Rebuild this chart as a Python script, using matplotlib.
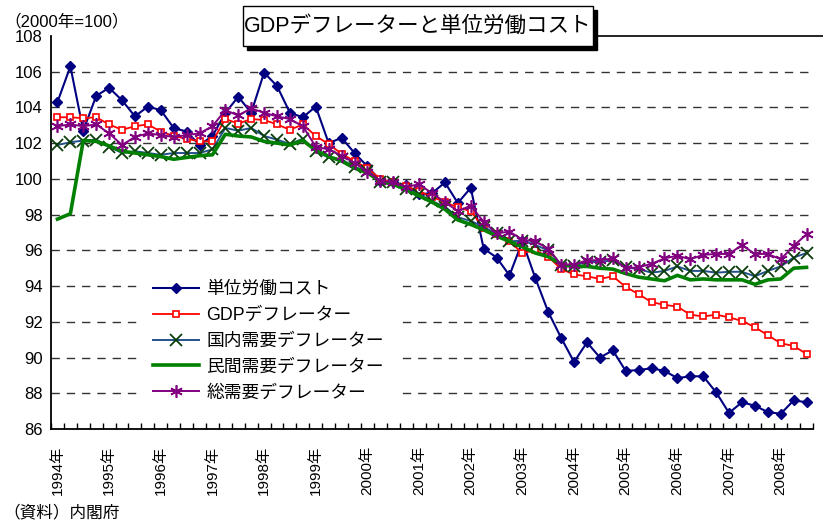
"""GDP deflator vs. unit labour cost, quarterly 1994Q1-2008Q3 (2000 = 100)."""

import matplotlib

matplotlib.use("Agg")
import matplotlib.pyplot as plt
from matplotlib.lines import Line2D
from matplotlib.patches import Rectangle

plt.rcParams["font.family"] = ["Liberation Sans", "Noto Sans CJK JP", "DejaVu Sans"]

W, H = 823, 522

years = [f"{y}年" for y in range(1994, 2009)]

unit_labor = [104.3, 106.3, 102.7, 104.65, 105.1, 104.4, 103.5, 104.05, 103.85, 102.85,
              102.65, 101.9, 102.4, 103.7, 104.6, 103.7, 105.95, 105.2, 103.7, 103.45,
              104.05, 102.0, 102.3, 101.45, 100.7, 99.9, 99.8, 99.65, 99.15, 99.2,
              99.8, 98.65, 99.5, 96.1, 95.6, 94.6, 96.5, 94.45, 92.55, 91.1,
              89.75, 90.85, 90.0, 90.4, 89.25, 89.3, 89.4, 89.25, 88.85, 88.95,
              88.95, 88.05, 86.9, 87.5, 87.3, 86.95, 86.85, 87.6, 87.5]
gdp_deflator = [103.45, 103.45, 103.4, 103.45, 103.05, 102.75, 102.95, 103.05, 102.65, 102.4,
                102.25, 102.1, 102.1, 103.35, 103.1, 103.35, 103.3, 103.05, 102.75, 103.05,
                102.4, 101.95, 101.4, 101.0, 100.6, 100.0, 99.8, 99.6, 99.3, 99.0,
                98.7, 98.4, 98.2, 97.25, 96.9, 96.5, 95.85, 96.0, 95.65, 94.95,
                94.65, 94.55, 94.4, 94.55, 93.95, 93.55, 93.1, 92.95, 92.85, 92.4,
                92.3, 92.4, 92.25, 92.05, 91.7, 91.25, 90.8, 90.65, 90.2]
domestic = [101.9, 102.05, 102.15, 102.2, 101.8, 101.45, 101.55, 101.45, 101.35, 101.45,
            101.45, 101.45, 101.65, 102.85, 102.7, 102.85, 102.4, 102.2, 101.95, 102.25,
            101.55, 101.2, 101.1, 100.65, 100.45, 99.85, 99.8, 99.45, 99.15, 98.75,
            98.45, 97.85, 97.65, 97.3, 96.95, 96.5, 96.55, 96.3, 96.0, 95.2,
            95.15, 95.35, 95.35, 95.45, 95.05, 94.95, 94.75, 94.85, 95.1, 94.85,
            94.85, 94.75, 94.8, 94.8, 94.55, 94.85, 95.1, 95.6, 95.85]
private = [97.75, 98.05, 102.15, 102.1, 101.85, 101.55, 101.45, 101.35, 101.25, 101.1,
           101.2, 101.3, 101.35, 102.5, 102.4, 102.35, 102.1, 102.0, 101.9, 102.15,
           101.6, 101.25, 101.0, 100.6, 100.35, 99.85, 99.7, 99.4, 99.05, 98.7,
           98.3, 97.7, 97.45, 97.15, 96.8, 96.5, 96.2, 95.85, 95.65, 95.2,
           95.1, 95.1, 95.0, 94.95, 94.7, 94.5, 94.4, 94.3, 94.6, 94.35,
           94.4, 94.35, 94.35, 94.35, 94.1, 94.35, 94.4, 95.0, 95.05]
total = [102.95, 103.05, 102.95, 103.05, 102.55, 101.9, 102.35, 102.55, 102.45, 102.35,
         102.45, 102.55, 102.95, 103.85, 103.55, 103.95, 103.7, 103.5, 103.35, 102.95,
         101.8, 101.65, 101.3, 100.9, 100.4, 99.9, 99.8, 99.55, 99.7, 99.2,
         98.7, 98.2, 98.5, 97.6, 96.95, 97.05, 96.6, 96.5, 96.1, 95.2,
         95.2, 95.45, 95.45, 95.55, 95.0, 95.05, 95.25, 95.55, 95.7, 95.5,
         95.75, 95.8, 95.8, 96.3, 95.8, 95.8, 95.5, 96.25, 96.9]

labels = ["単位労働コスト", "GDPデフレーター", "国内需要デフレーター",
          "民間需要デフレーター", "総需要デフレーター"]


def fx(px):
    return px / W


def fy(py):
    return 1 - py / H


fig = plt.figure(figsize=(W / 100, H / 100), dpi=100, facecolor="white")
ax = fig.add_axes([fx(51), fy(429), fx(813 - 51), (429 - 36) / H])

x = list(range(len(unit_labor)))

ax.plot(x, unit_labor, color="#000080", lw=1.5, marker="D", ms=5.2,
        mfc="#000080", mec="#000080", label=labels[0], zorder=3)
ax.plot(x, gdp_deflator, color="#FF0000", lw=1.3, marker="s", ms=4.6,
        mfc="white", mec="#FF0000", mew=1.2, label=labels[1], zorder=4)
ax.plot(x, domestic, color="#24508A", lw=1.4, marker="x", ms=8.5,
        mec="#0B3D0B", mew=1.3, label=labels[2], zorder=5)
ax.plot(x, private, color="#008000", lw=2.6, label=labels[3], zorder=6)
ax.plot(x, total, color="#800080", lw=1.4, marker=(6, 2, 0), ms=9,
        mec="#800080", mew=1.2, label=labels[4], zorder=7)

ax.set_xlim(-0.5, len(x) - 0.5)
ax.set_ylim(86, 108)

# dashed gridlines every 2 points
for v in range(88, 108, 2):
    ax.axhline(v, color="#333333", lw=1.0, dashes=(6, 5), zorder=1)

ax.set_yticks(range(86, 109, 2))
ax.tick_params(axis="y", length=0, pad=6, labelsize=12)

ax.set_xticks(range(0, len(x), 4))
ax.set_xticklabels(years, rotation=90, fontsize=11)
ax.set_xticks([i - 0.5 for i in range(len(x) + 1)], minor=True)
ax.tick_params(axis="x", which="major", length=0, pad=12)
ax.tick_params(axis="x", which="minor", direction="in", length=4, width=1)

for side in ("top", "right"):
    ax.spines[side].set_visible(False)
for side in ("left", "bottom"):
    ax.spines[side].set_linewidth(1.3)

leg = ax.legend(loc="upper left", bbox_to_anchor=(fx(137), fy(265)),
                bbox_transform=fig.transFigure, fontsize=12.8, frameon=True,
                facecolor="white", edgecolor="none", framealpha=1,
                fancybox=False, borderpad=0.9, borderaxespad=0,
                handlelength=2.6, handletextpad=0.4, labelspacing=0.5)
leg.set_zorder(10)

# top border of the plot area to the right of the title box
fig.add_artist(Line2D([fx(597), 1.0], [fy(36), fy(36)], color="black", lw=1.2))

# title box with drop shadow
fig.add_artist(Rectangle((fx(247), fy(50)), fx(350), (40 / H), facecolor="black",
                         edgecolor="black", zorder=20))
fig.add_artist(Rectangle((fx(243), fy(46)), fx(350), (40 / H), facecolor="white",
                         edgecolor="black", lw=1.0, zorder=21))
fig.text(fx(418), fy(26), "GDPデフレーターと単位労働コスト", fontsize=15.5,
         ha="center", va="center", zorder=22)

fig.text(fx(4), fy(21), "（2000年=100）", fontsize=12, ha="left", va="center")
fig.text(fx(3), fy(512), "（資料）内閣府", fontsize=12, ha="left", va="center")

fig.savefig("out.png", dpi=100, facecolor="white")
